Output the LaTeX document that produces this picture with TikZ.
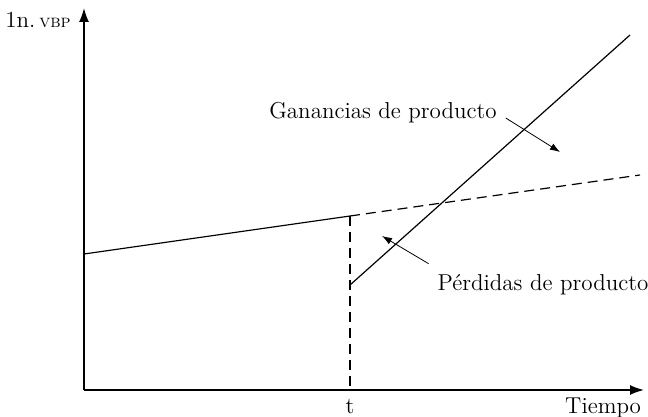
\documentclass[tikz,border=0pt]{standalone}
\usepackage{tikz}
\usetikzlibrary{arrows.meta}

\begin{document}
\begin{tikzpicture}[x=0.5pt,y=-0.5pt,font=\fontsize{11.5}{13}\selectfont,
	axis/.style={thick,-{Latex[length=7pt,width=5pt]}},
	curve/.style={semithick},
	dashcurve/.style={semithick,dash pattern=on 5pt off 3pt},
	pointer/.style={-{Latex[length=5pt,width=3.5pt]}}]
		\useasboundingbox (0,0) rectangle (648,417);

		\coordinate (o) at (84,390);
		\coordinate (ytop) at (84,8);
		\coordinate (xend) at (644,390);
		\coordinate (start) at (84,254);
		\coordinate (cut) at (350,216);
		\coordinate (tfoot) at (350,390);
		\coordinate (drop) at (350,285);
		\coordinate (trend) at (640,175);
		\coordinate (rise) at (630,35);

		\node[anchor=west,inner sep=1pt] (vbp) at (3,20) {1n.\,{\fontsize{9}{11}\selectfont\textsc{vbp}}};
		\node (t) at (350,407) {t};
		\node[anchor=east] (tiempo) at (648,408) {Tiempo};
		\node (gan) at (383,113) {Ganancias de producto};
		\node (per) at (543,285) {P\'erdidas de producto};
		\coordinate (ganto) at (560,152);
		\coordinate (perto) at (382,236);

		\draw[axis] (o) -- (ytop);
		\draw[axis] (o) -- (xend);

		\draw[curve] (start) -- (cut);
		\draw[dashcurve] (cut) -- (trend);
		\draw[dashcurve] (cut) -- (tfoot);
		\draw[curve] (drop) -- (rise);

		\draw[pointer] (gan.east) ++(2,5) -- (ganto);
		\draw[pointer] (per.north west) ++(-2,-4) -- (perto);
	\end{tikzpicture}
\end{document}
